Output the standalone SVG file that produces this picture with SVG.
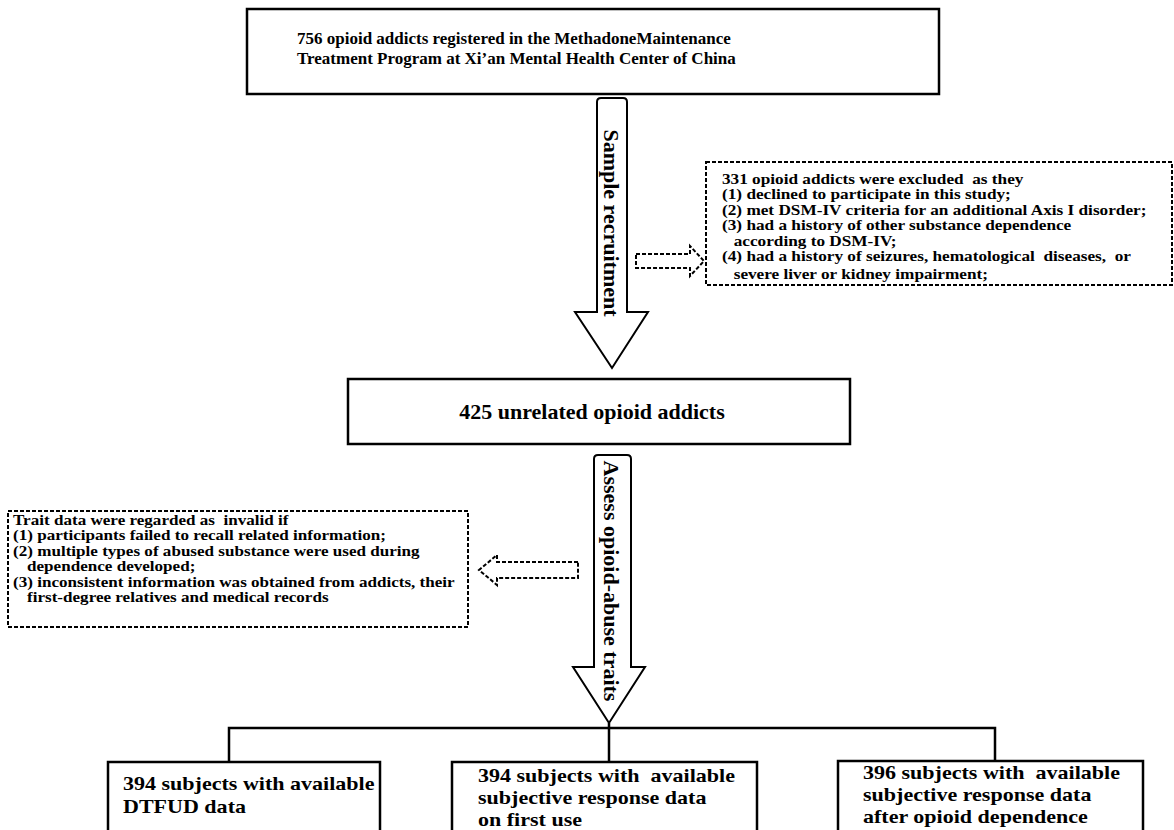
<svg xmlns="http://www.w3.org/2000/svg" width="1174" height="830" viewBox="0 0 1174 830">
<style>
.box{fill:#fff;stroke:#000;stroke-width:2.5}
.dash{fill:#fff;stroke:#000;stroke-width:2;stroke-dasharray:4 2}
.arr{fill:#fff;stroke:#000;stroke-width:2;stroke-linejoin:miter}
.ln{fill:none;stroke:#000;stroke-width:2.5}
text{font-family:"Liberation Serif","Times New Roman",serif;font-weight:bold;fill:#000;white-space:pre}
.big{font-size:22px}
.low{font-size:19.5px}
.mid{font-size:17px}
.sm{font-size:14px}
</style>
<rect width="1174" height="830" fill="#fff"/>
<g id="n-top">
<rect class="box" x="247" y="9" width="692" height="85"/>
<text class="mid" x="297" y="44">756 opioid addicts registered in the MethadoneMaintenance<tspan x="297" y="64">Treatment Program at Xi’an Mental Health Center of China</tspan></text>
</g>
<g id="n-recruit">
<path class="arr" d="M597,312 L597,102 Q597,98 601,98 L623,98 Q627,98 627,102 L627,312 L648,312 L612,368 L575,312 Z"/>
<text class="big" transform="translate(604,223) rotate(90)" text-anchor="middle">Sample recruitment</text>
</g>
<g id="n-excluded">
<rect class="dash" x="706" y="162" width="466" height="123"/>
<text class="sm" transform="translate(722,0) scale(1.23,1)" x="0" y="184">331 opioid addicts were excluded  as they<tspan x="0" y="199.5">(1) declined to participate in this study;</tspan><tspan x="0" y="215">(2) met DSM-IV criteria for an additional Axis I disorder;</tspan><tspan x="0" y="230.5">(3) had a history of other substance dependence</tspan><tspan x="9.5" y="246">according to DSM-IV;</tspan><tspan x="0" y="261.5">(4) had a history of seizures, hematological  diseases,  or</tspan><tspan x="9.5" y="279">severe liver or kidney impairment;</tspan></text>
</g>
<g id="n-425">
<rect class="box" x="348" y="379" width="502" height="65"/>
<text class="big" x="592" y="419" text-anchor="middle">425 unrelated opioid addicts</text>
</g>
<g id="n-assess">
<path class="arr" d="M594,667 L594,459 Q594,455 598,455 L627,455 Q631,455 631,459 L631,667 L645,667 L609,723 L573,667 Z"/>
<text class="big" transform="translate(604,581) rotate(90)" text-anchor="middle">Assess opioid-abuse traits</text>
</g>
<g id="n-invalid">
<rect class="dash" x="8" y="511" width="460" height="116"/>
<text class="sm" transform="translate(13,0) scale(1.22,1)" x="0" y="525">Trait data were regarded as  invalid if<tspan x="0" y="540.5">(1) participants failed to recall related information;</tspan><tspan x="0" y="556">(2) multiple types of abused substance were used during</tspan><tspan x="11.5" y="571.5">dependence developed;</tspan><tspan x="0" y="587">(3) inconsistent information was obtained from addicts, their</tspan><tspan x="11.5" y="602.5">first-degree relatives and medical records</tspan></text>
</g>
<g id="n-dtfud">
<rect class="box" x="108" y="762" width="272" height="72"/>
<text class="low" transform="translate(123,0) scale(1.13,1)" x="0" y="790">394 subjects with available<tspan x="0" y="813">DTFUD data</tspan></text>
</g>
<g id="n-first">
<rect class="box" x="452" y="762" width="305" height="72"/>
<text class="low" transform="translate(478,0) scale(1.13,1)" x="0" y="782">394 subjects with  available<tspan x="0" y="804">subjective response data</tspan><tspan x="0" y="826">on first use</tspan></text>
</g>
<g id="n-after">
<rect class="box" x="838" y="761" width="305" height="73"/>
<text class="low" transform="translate(863,0) scale(1.13,1)" x="0" y="779">396 subjects with  available<tspan x="0" y="801">subjective response data</tspan><tspan x="0" y="823">after opioid dependence</tspan></text>
</g>
<g id="connectors">
<path class="dash" d="M636,254 L690,254 L690,246 L704,261 L690,276 L690,268 L636,268 Z"/>
<path class="dash" d="M578,562 L497,562 L497,555 L479,570 L497,585 L497,578 L578,578 Z"/>
<path class="ln" d="M229,762 L229,728 L995,728 L995,762"/>
<path class="ln" d="M609,723 L609,762"/>
</g>
</svg>
